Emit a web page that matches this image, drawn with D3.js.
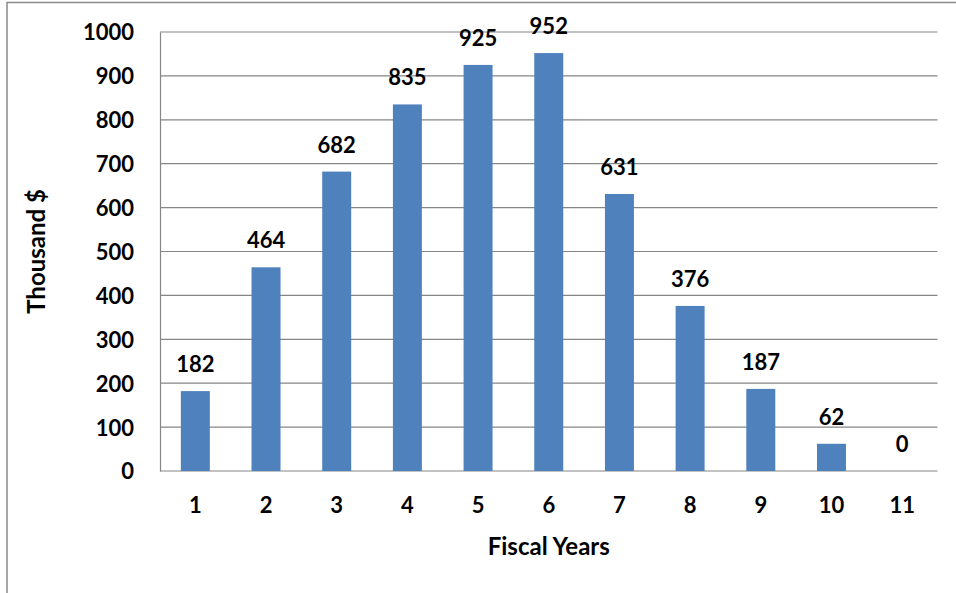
<!DOCTYPE html>
<html>
<head>
<meta charset="utf-8">
<script src="https://cdn.jsdelivr.net/npm/d3@7"></script>
<style>
  body { margin: 0; background: #fff; }
  svg text { font-family: Lato, "Open Sans", sans-serif; font-weight: bold; fill: #000; }
</style>
</head>
<body>
<svg width="956" height="593"></svg>
<script>
// данные графика
const years = ["1","2","3","4","5","6","7","8","9","10","11"];
const amounts = [182, 464, 682, 835, 925, 952, 631, 376, 187, 62, 0];
const yTicks = [0,100,200,300,400,500,600,700,800,900,1000];

const svg = d3.select('svg');
const plotLeft = 160, plotRight = 937.5, plotTop = 32, plotBottom = 471;

// рамка вокруг диаграммы
svg.append('rect')
  .attr('x', 7).attr('y', 2.5)
  .attr('width', 1000).attr('height', 1000)
  .attr('fill', 'none').attr('stroke', '#898989').attr('stroke-width', 1.5);

const x = d3.scaleBand().domain(years).range([plotLeft, plotRight])
  .paddingInner(0.59).paddingOuter(0.295);
const y = d3.scaleLinear().domain([0, 1000]).range([plotBottom, plotTop]);

// сетка
svg.append('g').selectAll('line').data(yTicks).join('line')
  .attr('x1', plotLeft).attr('x2', plotRight)
  .attr('y1', d => y(d)).attr('y2', d => y(d))
  .attr('stroke', '#868686').attr('stroke-width', 1.2);

// ось Y
const yAxis = svg.append('g').attr('transform', `translate(${plotLeft},0)`)
  .call(d3.axisLeft(y).tickValues(yTicks).tickFormat(d3.format('d')).tickSize(0).tickPadding(26));
yAxis.select('.domain').attr('stroke', '#868686').attr('stroke-width', 1.2);
yAxis.selectAll('text').style('font-size', '22px').attr('dy', '0.36em');

// ось X
const xAxis = svg.append('g').attr('transform', `translate(0,${plotBottom})`)
  .call(d3.axisBottom(x).tickSize(0).tickPadding(26));
xAxis.select('.domain').remove();
xAxis.selectAll('text').style('font-size', '22px');

// столбцы
svg.append('g').selectAll('rect').data(amounts).join('rect')
  .attr('x', (d, i) => x(years[i]))
  .attr('y', d => y(d))
  .attr('width', x.bandwidth())
  .attr('height', d => plotBottom - y(d))
  .attr('fill', '#4F81BD');

// подписи значений
svg.append('g').selectAll('text').data(amounts).join('text')
  .attr('x', (d, i) => x(years[i]) + x.bandwidth() / 2)
  .attr('y', d => y(d) - 19)
  .attr('text-anchor', 'middle')
  .style('font-size', '22px')
  .text(d => d);

// заголовки осей
svg.append('text')
  .attr('x', (plotLeft + plotRight) / 2).attr('y', 555)
  .attr('text-anchor', 'middle').style('font-size', '24px')
  .text('Fiscal Years');

svg.append('text')
  .attr('transform', `translate(45,${(plotTop + plotBottom) / 2}) rotate(-90)`)
  .attr('text-anchor', 'middle').style('font-size', '24px')
  .text('Thousand $');
</script>
</body>
</html>
